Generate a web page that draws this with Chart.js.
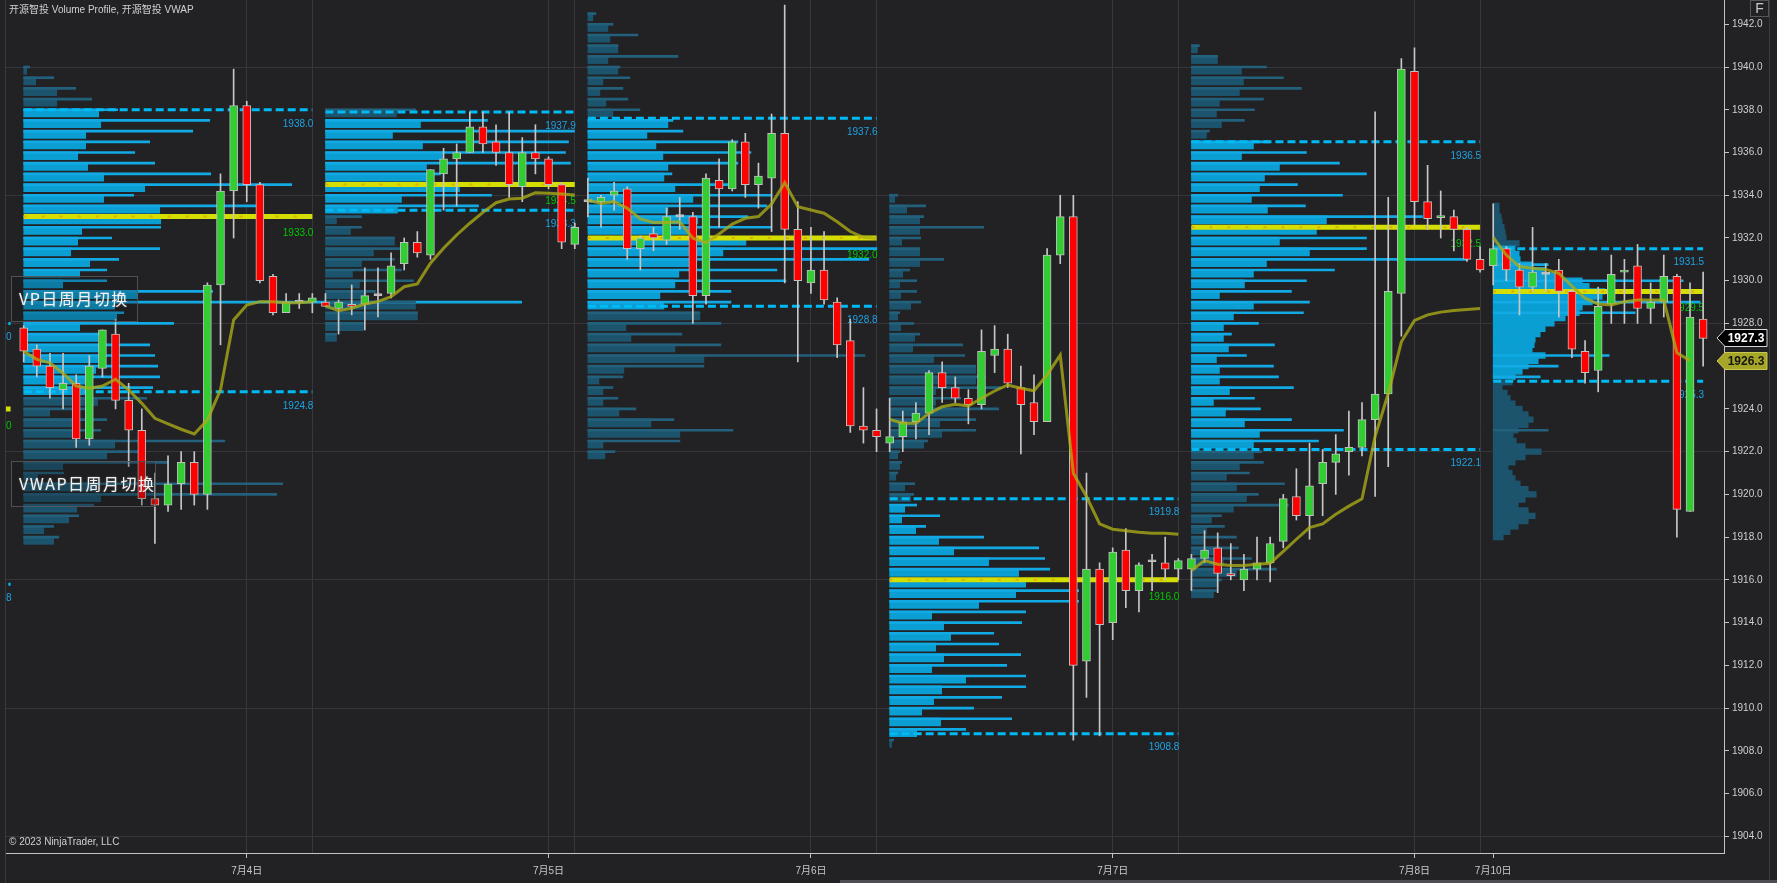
<!DOCTYPE html>
<html><head><meta charset="utf-8">
<script src="https://cdn.jsdelivr.net/npm/chart.js@4.4.0/dist/chart.umd.min.js"></script>
<style>html,body{margin:0;padding:0;background:#222225;overflow:hidden}canvas{display:block}</style>
</head><body>
<canvas id="c" width="1777" height="883"></canvas>
<script>
// ---------------- DATA ----------------
const OPEN = [1927.8,1926.8,1926.0,1924.9,1925.2,1922.6,1925.9,1927.5,1924.4,1923.0,
 1919.8,1919.5,1920.5,1921.5,1920.0,1929.8,1934.2,1938.2,1934.5,1930.2,
 1928.5,1929.0,1929.0,1929.0,1928.7,1928.9,1928.9,1929.3,1929.4,1930.8,
 1931.8,1931.2,1935.0,1935.7,1936.0,1937.2,1936.5,1936.0,1934.4,1936.0,
 1935.7,1934.5,1931.7,1933.7,1933.7,1934.0,1934.3,1931.5,1932.2,1931.9,
 1933.0,1933.0,1929.3,1934.7,1934.3,1936.5,1934.5,1934.8,1936.9,1932.4,
 1929.9,1930.5,1929.0,1927.2,1923.2,1923.0,1922.4,1922.7,1923.4,1923.8,
 1925.7,1925.0,1924.5,1924.2,1926.5,1926.8,1925.0,1924.3,1923.4,1931.2,
 1933.0,1912.2,1916.5,1914.0,1917.4,1915.5,1916.85,1916.8,1916.5,1916.5,
 1917.0,1917.5,1916.3,1916.0,1916.5,1916.8,1917.8,1919.9,1919.0,1920.5,
 1921.5,1922.0,1922.2,1923.5,1924.7,1929.4,1939.8,1933.7,1932.95,1933.0,
 1932.4,1931.0,1930.7,1931.5,1930.5,1929.7,1930.3,1930.5,1929.5,1926.7,
 1925.8,1928.9,1930.4,1930.7,1928.7,1929.0,1930.2,1919.2,1928.2];
const HIGH = [1927.9,1927.0,1926.6,1926.6,1925.6,1926.5,1927.7,1928.2,1925.2,1924.0,
 1921.0,1921.8,1922.0,1922.0,1929.9,1935.0,1939.9,1938.4,1934.6,1930.3,
 1929.4,1929.4,1929.4,1929.4,1929.1,1929.8,1930.6,1930.6,1931.3,1932.0,
 1932.3,1935.2,1936.2,1936.4,1937.9,1937.9,1937.3,1937.9,1936.7,1937.3,
 1935.8,1934.6,1932.7,1934.8,1934.0,1934.6,1934.4,1932.1,1932.5,1933.4,
 1933.9,1933.2,1935.0,1935.7,1936.6,1936.9,1935.5,1937.8,1942.9,1933.7,
 1932.5,1932.3,1929.2,1928.2,1925.0,1924.0,1924.5,1923.9,1924.3,1925.8,
 1926.2,1925.5,1924.9,1927.7,1927.9,1927.5,1926.0,1925.6,1931.5,1934.0,
 1934.0,1921.0,1916.8,1917.5,1918.4,1916.8,1917.2,1918.0,1917.0,1917.2,
 1918.3,1918.2,1917.7,1917.2,1918.0,1918.0,1920.0,1921.2,1922.4,1922.1,
 1922.8,1923.9,1924.3,1937.9,1933.9,1940.4,1940.9,1935.4,1934.2,1933.3,
 1932.5,1931.6,1933.6,1931.6,1930.8,1932.5,1930.8,1931.0,1929.6,1927.2,
 1929.7,1931.2,1931.0,1931.7,1929.9,1931.2,1930.3,1929.9,1930.4];
const LOW = [1926.2,1925.5,1924.5,1924.0,1922.2,1922.3,1925.5,1924.0,1921.3,1919.5,
 1917.7,1919.2,1919.3,1919.5,1919.3,1927.0,1932.0,1933.7,1929.9,1928.4,
 1928.5,1928.7,1928.5,1928.8,1927.5,1928.4,1927.7,1928.3,1929.2,1930.5,
 1931.1,1931.0,1933.3,1933.5,1936.0,1936.0,1935.4,1933.9,1933.7,1935.0,
 1934.3,1931.5,1931.5,1933.0,1932.5,1933.3,1931.0,1930.5,1931.4,1931.7,
 1932.4,1928.0,1928.9,1932.5,1934.2,1933.9,1933.4,1932.3,1929.9,1926.2,
 1929.4,1928.9,1926.4,1922.9,1922.4,1922.0,1922.0,1922.0,1922.6,1922.8,
 1924.3,1924.3,1923.3,1924.0,1925.7,1925.0,1921.9,1922.8,1923.4,1930.8,
 1908.5,1910.5,1908.7,1913.2,1914.7,1914.5,1915.5,1916.0,1916.0,1915.5,
 1916.8,1915.4,1916.0,1915.5,1916.0,1915.9,1917.5,1918.8,1917.9,1919.0,
 1920.0,1920.9,1921.8,1919.9,1921.3,1927.4,1932.6,1932.4,1932.0,1931.4,
 1930.9,1930.4,1929.8,1930.0,1928.4,1929.5,1929.5,1928.3,1926.4,1925.2,
 1924.8,1928.0,1928.0,1928.0,1928.0,1928.3,1918.0,1919.2,1926.0];
const CLOSE = [1926.7,1926.0,1925.0,1925.2,1922.6,1926.0,1927.7,1924.4,1923.0,1919.8,
 1919.5,1920.5,1921.5,1920.0,1929.8,1934.2,1938.2,1934.5,1930.0,1928.5,
 1929.0,1929.0,1929.2,1928.8,1929.0,1928.8,1929.3,1929.3,1930.7,1931.8,
 1931.3,1935.2,1935.7,1936.0,1937.2,1936.4,1936.0,1934.5,1936.0,1935.7,
 1934.5,1931.8,1932.5,1933.7,1933.9,1934.2,1931.5,1932.0,1932.0,1933.0,
 1933.0,1929.3,1934.8,1934.3,1936.5,1934.5,1934.9,1936.9,1932.4,1930.0,
 1930.5,1929.1,1927.0,1923.2,1923.0,1922.7,1922.7,1923.4,1923.8,1925.7,
 1925.0,1924.5,1924.2,1926.7,1926.8,1925.2,1924.2,1923.4,1931.2,1933.0,
 1912.0,1916.5,1913.9,1917.3,1915.5,1916.7,1916.85,1916.5,1916.9,1917.0,
 1917.4,1916.3,1916.2,1916.5,1916.8,1917.7,1919.8,1919.0,1920.4,1921.5,
 1921.9,1922.2,1923.5,1924.7,1929.5,1939.9,1933.7,1932.9,1933.0,1932.4,
 1931.0,1930.5,1931.5,1930.5,1929.7,1930.4,1930.3,1929.5,1926.8,1925.7,
 1928.8,1930.3,1930.5,1928.7,1929.0,1930.2,1919.3,1928.3,1927.3];
const VWAP = [1926.7,1926.32,1926.16,1925.67,1925.07,1924.97,1925.07,1925.39,1924.89,1924.26,1923.56,1923.3,1923.05,1922.83,1923.48,1924.89,1928.16,1928.86,1929.02,1929.02,1928.97,1928.97,1929.02,
 1928.82,1928.6,1928.71,1928.91,1929.02,1929.25,1929.72,1929.85,1930.82,1931.52,1932.14,1932.69,1933.2,1933.65,1933.82,1933.86,1934.12,1934.09,1934.06,1934.01,
 1933.78,1933.62,1933.7,1933.39,1932.89,1932.73,1932.72,1932.76,1931.99,1931.78,1932.19,1932.65,1932.92,1933.0,1933.59,1934.59,1933.46,1933.31,1933.16,1932.76,1932.3,1932.03,1931.99,
 1923.51,1923.33,1923.33,1923.79,1924.1,1924.22,1924.14,1924.5,1924.84,1925.12,1924.97,1924.85,1925.59,1926.52,1920.99,1919.9,1918.62,1918.37,1918.3,1918.23,1918.18,1918.18,1918.13,
 1916.44,1916.9,1916.73,1916.67,1916.67,1916.73,1916.78,1917.33,1917.9,1918.45,1918.62,1919.07,1919.45,1919.79,1922.72,1924.72,1927.14,1928.14,1928.4,1928.53,1928.61,1928.65,1928.7,
 1932.03,1931.2,1930.66,1930.58,1930.53,1930.35,1929.75,1929.18,1928.91,1928.86,1929.02,1929.1,1929.1,1929.1,1926.63,1926.26,null];

// sessions (bar indexes) and their value-area levels
const SESSION_START = [0, 23, 43, 66, 89, 112];
const SESSION_END   = [22, 42, 65, 88, 111, 128];
const VAH = [1938.0, 1937.9, 1937.6, 1919.8, 1936.5, 1931.5];
const POC = [1933.0, 1934.5, 1932.0, 1916.0, 1932.5, 1929.5];
const VAL = [1924.8, 1933.3, 1928.8, 1908.8, 1922.1, 1925.3];
// previous session (only its right end is visible)
const PREV_SESSION = [-3, -1];
const PREV_LEVELS = [1928.0, 1924.0, 1915.8]; // VAH, POC, VAL

// volume profiles: top price, row step, main volume and extended volume per row
const PROFILE_TOP  = [1940.0, 1938.0, 1942.5, 1934.0, 1941.0, 1933.5];
const PROFILE_STEP = [0.5, 0.5, 0.5, 0.5, 0.5, 0.25];
const P1_MAIN = [3,12,33,33,75,77,62,62,54,64,80,121,80,136,137,58,54,47,66,56,39,114,91,93,56,74,81,75,72,67,64,74,26,49,53,91,83,39,14,72,77,53,45,20,30];
const P1_EXT  = [6,30,52,68,94,186,169,126,111,131,187,268,110,232,190,137,88,136,95,83,83,189,498,100,150,80,126,131,134,136,129,123,68,83,77,201,120,144,40,259,253,70,55,30,35];
const P2_MAIN = [71,95,67,97,117,101,107,134,76,72,11,25,69,48,36,27,34,40,90,92,38,11];
const P2_EXT  = [90,162,249,243,240,245,115,160,166,153,36,36,69,76,69,76,88,50,90,92,38,11];
const P3_MAIN = [5,20,22,30,20,30,15,12,18,25,80,59,68,75,80,76,87,105,80,110,108,158,135,106,91,87,72,76,112,38,43,87,116,36,11,15,15,31,63,92,15,17];
const P3_EXT  = [8,25,50,30,90,32,42,35,40,52,85,95,150,163,150,84,140,183,179,160,183,200,289,281,189,198,143,143,112,133,94,133,277,116,35,25,30,48,86,145,92,27];
const P4_MAIN = [5,17,30,30,12,30,30,13,10,11,21,8,11,25,23,44,86,86,46,46,78,50,52,34,8,10,6,15,21,15,12,26,49,64,99,129,136,126,89,42,54,61,46,54,42,76,52,44,32,51,27,2];
const P4_EXT  = [8,36,34,94,31,30,54,20,27,27,31,10,24,30,73,75,86,96,111,71,109,86,86,38,10,12,8,25,24,27,50,36,94,149,155,160,288,189,189,136,132,104,109,131,117,136,136,112,84,122,76,4];
const P5_MAIN = [6,26,50,52,48,28,25,30,15,62,50,88,73,68,60,76,135,125,88,118,75,62,53,28,62,42,32,32,37,25,28,28,38,22,34,53,68,62,62,48,35,45,55,42,20,15,12,25,32,45,27,22];
const P5_EXT  = [8,26,75,92,110,72,63,53,18,78,115,148,175,106,151,114,231,260,175,175,276,143,115,100,118,112,67,40,83,55,82,87,102,63,69,100,152,127,70,72,58,93,67,97,30,33,45,47,60,85,30,25];
const P6_MAIN = [6,6,8,9,11,12,13,26,22,26,27,39,52,69,89,96,112,109,99,89,86,72,61,52,47,42,41,39,52,45,35,29,22,19,9,14,17,22,29,35,40,35,25,20,23,32,48,32,22,15,19,22,27,35,43,32,25,35,42,35,25,17,10];
const P6_EXT  = [0,0,0,0,0,0,0,0,0,0,0,55,0,0,190,0,0,0,207,0,142,0,0,0,0,0,0,0,116,0,65,0,47,0,0,0,0,0,0,0,0,0,55,0,0,0,0,0,0,0,0,0,0,0,0,0,0,0,0,0,0,0,0];

// axes
const Y_TICKS = [1904,1906,1908,1910,1912,1914,1916,1918,1920,1922,1924,1926,1928,1930,1932,1934,1936,1938,1940,1942];
const Y_GRID  = [1904,1910,1916,1922,1928,1934,1940];
const DATE_TICKS  = [17, 40, 60, 83, 106, 112];
const DATE_LABELS = ['7月4日','7月5日','7月6日','7月7日','7月8日','7月10日'];
const SESSION_GRID = [22, 42, 65, 88, 111];

// ---------------- BUILD ----------------
const BG = '#222225', GRID = '#37373b', AXIS = '#c4c4c4';
const VA_COL = 'rgb(10,158,210)', OUT_COL = 'rgb(28,84,109)';
const VA_COL_T = 'rgb(18,170,228)', OUT_COL_T = 'rgb(34,96,124)';
const X_MIN = -1.4253, X_MAX = 129.59, Y_MIN = 1903.218, Y_MAX = 1943.137;
const VOL_TO_BARS = 1 / 13.12;

const bodies = OPEN.map((o, i) => ({x: i, y: [o, CLOSE[i]]}));
const wicks  = OPEN.map((o, i) => ({x: i, y: [LOW[i], HIGH[i]]}));
const bodyColors = OPEN.map((o, i) => CLOSE[i] > o ? '#32cd32' : CLOSE[i] < o ? '#ff0000' : '#c8c8c8');

const vwapPts = [];
VWAP.forEach((v, i) => {
  if (i > 0 && SESSION_START.includes(i)) vwapPts.push({x: i - 0.5, y: null});
  if (v !== null) vwapPts.push({x: i, y: v});
});

function levelSegs(k) {
  const pts = [];
  pts.push({x: PREV_SESSION[0], y: PREV_LEVELS[k]}, {x: PREV_SESSION[1], y: PREV_LEVELS[k]}, {x: PREV_SESSION[1], y: null});
  const vals = [VAH, POC, VAL][k];
  SESSION_START.forEach((s, j) => {
    pts.push({x: s, y: vals[j]}, {x: SESSION_END[j], y: vals[j]}, {x: SESSION_END[j], y: null});
  });
  return pts;
}
const vaLines = levelSegs(0).concat(levelSegs(2));
const pocLines = levelSegs(1);

const PROFILES = [[P1_MAIN,P1_EXT],[P2_MAIN,P2_EXT],[P3_MAIN,P3_EXT],[P4_MAIN,P4_EXT],[P5_MAIN,P5_EXT],[P6_MAIN,P6_EXT]];
const thick = [], fine = [], thin = [];
PROFILES.forEach(([main, ext], s) => {
  const step = PROFILE_STEP[s];
  const st = SESSION_START[s];
  main.forEach((v, k) => {
    const p = +(PROFILE_TOP[s] - k * step).toFixed(2);
    const va = p <= VAH[s] + 1e-9 && p >= VAL[s] - 1e-9;
    if (step < 0.5) fine.push({x: [st, st + v * VOL_TO_BARS], y: p, va});
    else thick.push({x: [st, st + v * VOL_TO_BARS], y: p - 0.15, va});
    const e = ext[k];
    if (e > 0) thin.push({x: [st, st + e * VOL_TO_BARS], y: p, va});
  });
});

const profColor = c => (c.raw && c.raw.va) ? VA_COL : OUT_COL;
const profColorT = c => (c.raw && c.raw.va) ? VA_COL_T : OUT_COL_T;
const X_TICKS = [...new Set(DATE_TICKS.concat(SESSION_GRID))].sort((a, b) => a - b);
const X_GRID = SESSION_GRID.concat(DATE_TICKS.slice(0, 5));

let WICK_INDEX = 2;

const overlay = {
  id: 'overlay',
  beforeDraw(chart) {
    const ctx = chart.ctx;
    ctx.save(); ctx.fillStyle = BG; ctx.fillRect(0, 0, chart.width, chart.height); ctx.restore();
  },
  beforeDatasetDraw(chart, args) {
    if (args.index !== WICK_INDEX) return;
    const ctx = chart.ctx, xs = chart.scales.x, ys = chart.scales.y, a = chart.chartArea;
    ctx.save();
    ctx.beginPath(); ctx.rect(a.left, a.top, a.right - a.left, a.bottom - a.top); ctx.clip();
    ctx.font = '10px "Liberation Sans", Arial, sans-serif';
    ctx.textAlign = 'right'; ctx.textBaseline = 'middle';
    const put = (end, v, col, dy) => {
      ctx.fillStyle = col;
      ctx.fillText(v.toFixed(1), xs.getPixelForValue(end) + 1, ys.getPixelForValue(v) + dy);
    };
    put(PREV_SESSION[1], PREV_LEVELS[0], '#1ea3e4', 14);
    put(PREV_SESSION[1], PREV_LEVELS[1], '#00c800', 17);
    put(PREV_SESSION[1], PREV_LEVELS[2], '#1ea3e4', 14);
    SESSION_START.forEach((s, j) => {
      put(SESSION_END[j], VAH[j], '#1ea3e4', 14);
      put(SESSION_END[j], POC[j], '#00c800', 17);
      put(SESSION_END[j], VAL[j], '#1ea3e4', 14);
    });
    ctx.restore();
  },
  afterDatasetsDraw(chart) {
    const ctx = chart.ctx;
    ctx.save();
    const btn = (x, y, w, h, txt) => {
      ctx.fillStyle = 'rgba(20,20,22,0.25)'; ctx.fillRect(x, y, w, h);
      ctx.strokeStyle = 'rgba(85,85,90,0.9)'; ctx.lineWidth = 1; ctx.strokeRect(x + 0.5, y + 0.5, w, h);
      ctx.font = '16px "Noto Sans CJK SC", sans-serif';
      ctx.letterSpacing = '1.5px';
      ctx.fillStyle = '#f2f2f2'; ctx.textBaseline = 'middle'; ctx.textAlign = 'left';
      ctx.shadowColor = 'rgba(255,255,255,0.35)'; ctx.shadowBlur = 2;
      ctx.fillText(txt, x + 8, y + h / 2);
      ctx.shadowBlur = 0;
    };
    btn(11, 276, 126, 45, 'VP日周月切换');
    btn(11, 461, 144, 45, 'VWAP日周月切换');
    ctx.restore();
  },
  afterDraw(chart) {
    const ctx = chart.ctx, ys = chart.scales.y;
    ctx.save();
    ctx.strokeStyle = '#3a3a3e'; ctx.lineWidth = 1;
    ctx.beginPath(); ctx.moveTo(5.5, 0); ctx.lineTo(5.5, 883); ctx.moveTo(1769.5, 0); ctx.lineTo(1769.5, 883); ctx.stroke();
    ctx.fillStyle = '#4e4e52'; ctx.fillRect(840, 880, 937, 3);
    ctx.font = '10px "Liberation Sans", "Noto Sans CJK SC", sans-serif';
    ctx.fillStyle = '#d0d0d0'; ctx.textAlign = 'left'; ctx.textBaseline = 'middle';
    ctx.fillText('开源智投 Volume Profile, 开源智投 VWAP', 9, 10);
    ctx.font = '10px "Liberation Sans", sans-serif';
    ctx.fillText('© 2023 NinjaTrader, LLC', 9, 842);
    // F box
    ctx.strokeStyle = '#55555a'; ctx.strokeRect(1750.5, 0.5, 18, 16);
    ctx.font = '14px "Liberation Sans", sans-serif'; ctx.fillStyle = '#c8c8c8'; ctx.textAlign = 'center';
    ctx.fillText('F', 1759.5, 9);
    // price markers
    const marker = (v, fill, stroke, col) => {
      const y = Math.round(ys.getPixelForValue(v));
      ctx.beginPath();
      ctx.moveTo(1717, y); ctx.lineTo(1725, y - 8.5); ctx.lineTo(1767, y - 8.5); ctx.lineTo(1767, y + 8.5); ctx.lineTo(1725, y + 8.5); ctx.closePath();
      ctx.fillStyle = fill; ctx.fill(); ctx.strokeStyle = stroke; ctx.lineWidth = 1; ctx.stroke();
      ctx.font = 'bold 12px "Liberation Sans", sans-serif'; ctx.fillStyle = col; ctx.textAlign = 'center'; ctx.textBaseline = 'middle';
      ctx.fillText(v.toFixed(1), 1746, y + 0.5);
    };
    const lastVwap = VWAP.filter(v => v !== null).slice(-1)[0];
    marker(CLOSE[CLOSE.length - 1], '#000000', '#d8d8d8', '#ffffff');
    marker(lastVwap, 'rgb(165,165,40)', 'rgb(200,200,80)', '#141414');
    ctx.restore();
  }
};

const chart = new Chart(document.getElementById('c'), {
  type: 'bar',
  data: { datasets: [
    {type: 'line', label: 'VWAP', data: vwapPts, borderColor: 'rgba(172,172,22,0.78)', borderWidth: 3, pointRadius: 0, tension: 0, spanGaps: false, order: 0},
    {type: 'bar', label: 'body', data: bodies, backgroundColor: bodyColors, borderColor: '#c0c0c0', borderWidth: 1, borderSkipped: false, barThickness: 8, grouped: false, minBarLength: 2, order: 1},
    {type: 'bar', label: 'wick', data: wicks, backgroundColor: '#c6c6c6', borderWidth: 0, barThickness: 1, grouped: false, order: 2},
    {type: 'line', label: 'POC dots', data: pocLines, borderColor: 'rgba(235,140,0,0.6)', borderWidth: 2, borderDash: [3, 15], pointRadius: 0, spanGaps: false, order: 3},
    {type: 'line', label: 'POC', data: pocLines, borderColor: 'rgb(212,222,0)', borderWidth: 5, pointRadius: 0, spanGaps: false, borderCapStyle: 'butt', order: 4},
    {type: 'line', label: 'VA', data: vaLines, borderColor: 'rgb(0,186,245)', borderWidth: 3, borderDash: [8, 4], pointRadius: 0, spanGaps: false, borderCapStyle: 'butt', order: 5},
    {type: 'bar', label: 'profile ext', indexAxis: 'y', data: thin, backgroundColor: profColorT, borderWidth: 0, barThickness: 2, grouped: false, order: 6},
    {type: 'bar', label: 'profile fine', indexAxis: 'y', data: fine, backgroundColor: profColor, borderWidth: 0, barThickness: 5.6, grouped: false, order: 7},
    {type: 'bar', label: 'profile', indexAxis: 'y', data: thick, backgroundColor: profColor, borderWidth: 0, barThickness: 8, grouped: false, order: 8}
  ]},
  options: {
    responsive: false, animation: false, devicePixelRatio: 1, events: [],
    layout: {padding: {left: 5, right: 0, top: 0, bottom: 0}},
    plugins: {legend: {display: false}, tooltip: {enabled: false}},
    scales: {
      x: {
        type: 'linear', position: 'bottom', min: X_MIN, max: X_MAX, offset: false,
        afterBuildTicks: s => { s.ticks = X_TICKS.map(v => ({value: v})); },
        afterFit: s => { s.height = 30; s.paddingLeft = 0; s.paddingRight = 0; },
        grid: {offset: false, lineWidth: 1, tickLength: 5,
          color: c => (c.tick && X_GRID.includes(c.tick.value)) ? GRID : 'rgba(0,0,0,0)',
          tickColor: c => (c.tick && DATE_TICKS.includes(c.tick.value)) ? AXIS : 'rgba(0,0,0,0)'},
        border: {display: true, color: AXIS, width: 1},
        ticks: {autoSkip: false, maxRotation: 0, minRotation: 0, padding: 7, color: '#c8c8c8',
          font: {size: 10, family: '"Liberation Sans", "Noto Sans CJK SC", sans-serif'},
          callback: v => { const k = DATE_TICKS.indexOf(v); return k >= 0 ? DATE_LABELS[k] : ''; }}
      },
      y: {
        type: 'linear', position: 'right', min: Y_MIN, max: Y_MAX, offset: false,
        afterBuildTicks: s => { s.ticks = Y_TICKS.map(v => ({value: v})); },
        afterFit: s => { s.width = 53; s.paddingTop = 0; s.paddingBottom = 0; },
        grid: {offset: false, lineWidth: 1, tickLength: 5,
          color: c => (c.tick && Y_GRID.includes(c.tick.value)) ? GRID : 'rgba(0,0,0,0)',
          tickColor: AXIS},
        border: {display: true, color: AXIS, width: 1},
        ticks: {padding: 3, color: '#cfcfcf', font: {size: 10, family: '"Liberation Sans", sans-serif'},
          callback: v => Number(v).toFixed(1)}
      }
    }
  },
  plugins: [overlay]
});
</script>
</body></html>
